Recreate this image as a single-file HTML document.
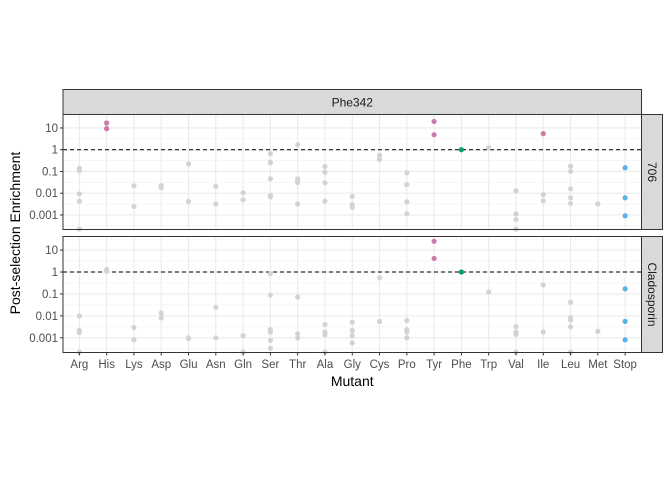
<!DOCTYPE html>
<html><head><meta charset="utf-8"><style>
html,body{margin:0;padding:0;background:#fff;}
svg{display:block;font-family:"Liberation Sans",Arial,sans-serif;}
</style></head><body>
<svg id="chart" width="672" height="480" xmlns="http://www.w3.org/2000/svg"></svg>
<script>
const categories=["Arg","His","Lys","Asp","Glu","Asn","Gln","Ser","Thr","Ala","Gly","Cys","Pro","Tyr","Phe","Trp","Val","Ile","Leu","Met","Stop"];
// log10 enrichment values per category, panel 706
const panel706=[[-0.85,-0.97,-2.03,-2.37,-3.65],[1.23,0.97],[-1.66,-2.61],[-1.65,-1.75],[-0.65,-2.38],[-1.69,-2.49],[-1.98,-2.30],[-0.18,-0.57,-0.6,-1.34,-2.11,-2.17],[0.23,-1.34,-1.41,-1.51,-2.49],[-0.77,-1.03,-1.52,-2.37],[-2.15,-2.52,-2.65],[-0.26,-0.45],[-1.06,-1.61,-2.40,-2.95],[1.30,0.69],[0],[0.09],[-1.89,-2.95,-3.21,-3.67],[0.74,-2.07,-2.35],[-0.76,-1.0,-1.8,-2.21,-2.47],[-2.49],[-0.83,-2.21,-3.04]];
// log10 enrichment values per category, panel Cladosporin
const panelClado=[[-2.01,-2.66,-2.76,-3.66],[0.12,0.04],[-2.53,-3.09],[-1.87,-2.09],[-3.0,-3.04],[-1.61,-3.0],[-2.9,-3.66],[-0.08,-1.05,-2.62,-2.74,-3.12,-3.48],[-1.14,-2.81,-3.01],[-2.39,-2.74,-2.86,-3.66],[-2.29,-2.66,-2.90,-3.23],[-0.26,-2.25],[-2.21,-2.63,-2.74,-3.0],[1.40,0.62],[0],[-0.91],[-2.49,-2.74,-2.84,-3.66],[-0.59,-2.74],[-1.38,-2.07,-2.19,-2.5,-3.66],[-2.70],[-0.77,-2.25,-3.09]];
const tickValues=[1,0,-1,-2,-3];
const tickLabels=["10","1","0.1","0.01","0.001"];
const panelNames=["706","Cladosporin"];

const NS="http://www.w3.org/2000/svg";
const svg=document.getElementById("chart");
function mk(tag,attrs,parent){const e=document.createElementNS(NS,tag);for(const k in attrs)e.setAttribute(k,attrs[k]);(parent||svg).appendChild(e);return e;}
const L=63,R=641.5;
const step=(R-L)/(categories.length-1+1.2);
const xS=i=>L+step*(0.6+i);
const vMin=-3.67,vMax=1.62;
const panels=[{top:114.5,bot:229.5,data:panel706},{top:236.5,bot:352.5,data:panelClado}];
function colorFor(c,v){if(c==="Phe")return"#009E73";if(c==="Stop")return"#56B4E9";if((c==="His"&&panels)||c==="Tyr"||c==="Ile"){if(v>0.3)return"#CC79A7";}return"#d3d3d3";}

// strip top
const st=mk("rect",{x:L,y:89.5,width:R-L,height:25,fill:"#d9d9d9",stroke:"#333","stroke-width":1});

const stt=mk("text",{x:(L+R)/2,y:106.5,"text-anchor":"middle","font-size":12,fill:"#1a1a1a"});stt.textContent="Phe342";


panels.forEach((p,pi)=>{
  const yS=v=>p.bot-(v-vMin)/(vMax-vMin)*(p.bot-p.top);
  const g=mk("g",{});
  
  
  mk("rect",{x:L,y:p.top,width:R-L,height:p.bot-p.top,fill:"#fff"},g);
  // minor grid
  for(let v=-3.5;v<=1.5;v+=1){mk("line",{x1:L,x2:R,y1:yS(v),y2:yS(v),stroke:"#f0f0f0","stroke-width":0.6},g);}
  tickValues.forEach((v,k)=>{
    mk("line",{x1:L,x2:R,y1:yS(v),y2:yS(v),stroke:"#ebebeb","stroke-width":1.1},g);
    mk("line",{x1:L-3,x2:L,y1:yS(v),y2:yS(v),stroke:"#333","stroke-width":1},g);
    const t=mk("text",{x:L-5,y:yS(v)+4,"text-anchor":"end","font-size":11.5,fill:"#4d4d4d"},g);t.textContent=tickLabels[k];
    
    
  });
  categories.forEach((c,i)=>{mk("line",{x1:xS(i),x2:xS(i),y1:p.top,y2:p.bot,stroke:"#ebebeb","stroke-width":1.1},g);});
  mk("line",{x1:L,x2:R,y1:yS(0),y2:yS(0),stroke:"#000","stroke-width":1,"stroke-dasharray":"4,3"},g);
  // points: grey first then colored
  const pts=[];
  p.data.forEach((arr,i)=>arr.forEach(v=>{let col="#d3d3d3";const c=categories[i];
    if(c==="Phe")col="#009E73";else if(c==="Stop")col="#56B4E9";else if((c==="His"&&pi===0)||c==="Tyr"||(c==="Ile"&&v>0.3))col="#CC79A7";
    pts.push({i,v,col});}));
  pts.sort((a,b)=>(a.col==="#d3d3d3"?0:1)-(b.col==="#d3d3d3"?0:1));
  pts.forEach(q=>{const vv=Math.max(vMin+0.02,Math.min(vMax,q.v));
    const c=mk("circle",{cx:xS(q.i),cy:yS(vv),r:2.6,fill:q.col},g);
    
    });
  mk("rect",{x:L,y:p.top,width:R-L,height:p.bot-p.top,fill:"none",stroke:"#333","stroke-width":1},g);
  const rs=mk("rect",{x:R,y:p.top,width:21,height:p.bot-p.top,fill:"#d9d9d9",stroke:"#333","stroke-width":1});
  
  const cy=(p.top+p.bot)/2, cx=R+10.5;
  const rt=mk("text",{x:cx,y:cy,"text-anchor":"middle","font-size":12,fill:"#1a1a1a",transform:`rotate(90 ${cx} ${cy}) translate(0 4)`});
  rt.textContent=panelNames[pi];
  
  
});
// x ticks
categories.forEach((c,i)=>{
  mk("line",{x1:xS(i),x2:xS(i),y1:352.5,y2:355.5,stroke:"#333","stroke-width":1});
  const t=mk("text",{x:xS(i),y:368,"text-anchor":"middle","font-size":11.5,fill:"#4d4d4d"});t.textContent=c;
  
  
});
const xt=mk("text",{x:(L+R)/2,y:386,"text-anchor":"middle","font-size":14,fill:"#000"});xt.textContent="Mutant";

const yt=mk("text",{x:0,y:0,"text-anchor":"middle","font-size":14,fill:"#000",transform:"translate(20 233) rotate(-90)"});yt.textContent="Post-selection Enrichment";

</script>
</body></html>
